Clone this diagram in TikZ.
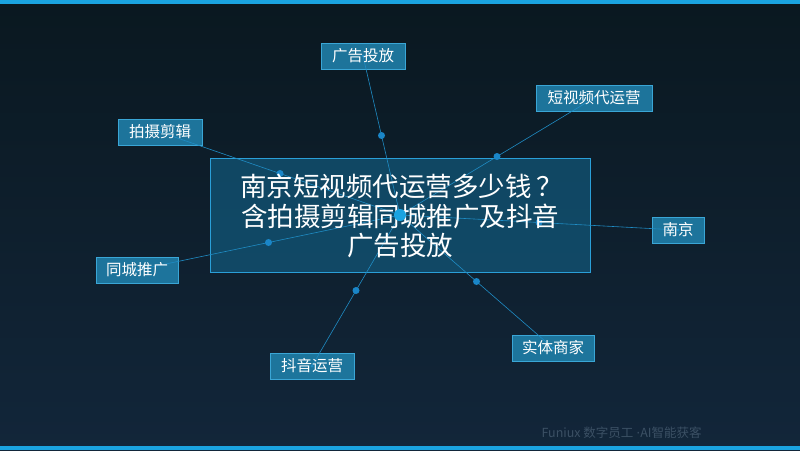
\documentclass[tikz,border=0pt]{standalone}
\usepackage{fontspec}
\setmainfont{Noto Sans CJK SC}
\newfontfamily\cjk{Noto Sans CJK SC}
\newfontfamily\dotfont{DejaVu Sans}
\definecolor{bgtop}{HTML}{0A1820}
\definecolor{bgbot}{HTML}{12263A}
\definecolor{barblue}{HTML}{1AA3E0}
\definecolor{boxfill}{HTML}{1F7EA8}
\definecolor{boxline}{HTML}{3AA6D6}
\definecolor{mainfill}{HTML}{136A93}
\definecolor{mainline}{HTML}{2A9FD8}
\definecolor{linkc}{HTML}{1F8CC4}
\definecolor{dotc}{HTML}{1A86C8}
\definecolor{footc}{HTML}{3B5064}
\tikzset{
  leaf/.style={draw=boxline, line width=0.8pt, fill=boxfill, fill opacity=0.9, text opacity=1, text=white, font=\cjk\fontsize{15.5}{18}\selectfont, minimum height=26pt, inner sep=0pt},
  link/.style={draw=linkc, line width=0.6pt},
  middot/.style={circle, fill=dotc, inner sep=0pt, minimum size=7pt},
}
\begin{document}
\begin{tikzpicture}[x=1pt,y=-1pt]
\useasboundingbox (0,0) rectangle (800,450);
\shade[top color=bgtop, bottom color=bgbot] (0,0) rectangle (800,450);
\fill[barblue] (0,0) rectangle (800,4);
\fill[barblue] (0,446) rectangle (800,450);
% central box
\node[draw=mainline, line width=0.8pt, fill=mainfill, fill opacity=0.55, minimum width=380pt, minimum height=114pt, inner sep=0pt] (mainbox) at (400,215) {};
% leaf boxes
\node[leaf, minimum width=84pt] (ad) at (363,56) {};
\node[leaf, minimum width=116pt] (dsp) at (594,98) {};
\node[leaf, minimum width=84pt] (ps) at (160,132) {};
\node[leaf, minimum width=52pt] (nj) at (678,230) {};
\node[leaf, minimum width=82pt] (tc) at (137,270) {};
\node[leaf, minimum width=84pt] (dy) at (312,366) {};
\node[leaf, minimum width=82pt] (st) at (553,348) {};
\coordinate (c) at (400,215);
\foreach \n in {ad,dsp,ps,nj,tc,dy,st}{
  \draw[link] (c) -- (\n.center) node[middot, pos=0.5] {};
  \fill[linkc] (\n.center) circle (1.5pt);
}
% texts
\foreach \n/\t in {ad/广告投放,dsp/短视频代运营,ps/拍摄剪辑,nj/南京,tc/同城推广,dy/抖音运营,st/实体商家}{
  \node[text=white, font=\cjk\fontsize{15.5}{18}\selectfont] at (\n.center) {\t};
}
\node[text=white, align=center, font=\cjk\fontsize{26.5}{29.5}\selectfont] (title) at (400,216) {\hspace{3pt}南京短视频代运营多少钱\hspace{5pt}？\\含拍摄剪辑同城推广及抖音\\广告投放};
\fill[barblue] (c) circle (6pt);
\node[text=footc, font=\cjk\fontsize{12.5}{14}\selectfont, anchor=west] (foot) at (538,433) {Funiux 数字员工 {\dotfont ·}AI智能获客};
\end{tikzpicture}
\end{document}
